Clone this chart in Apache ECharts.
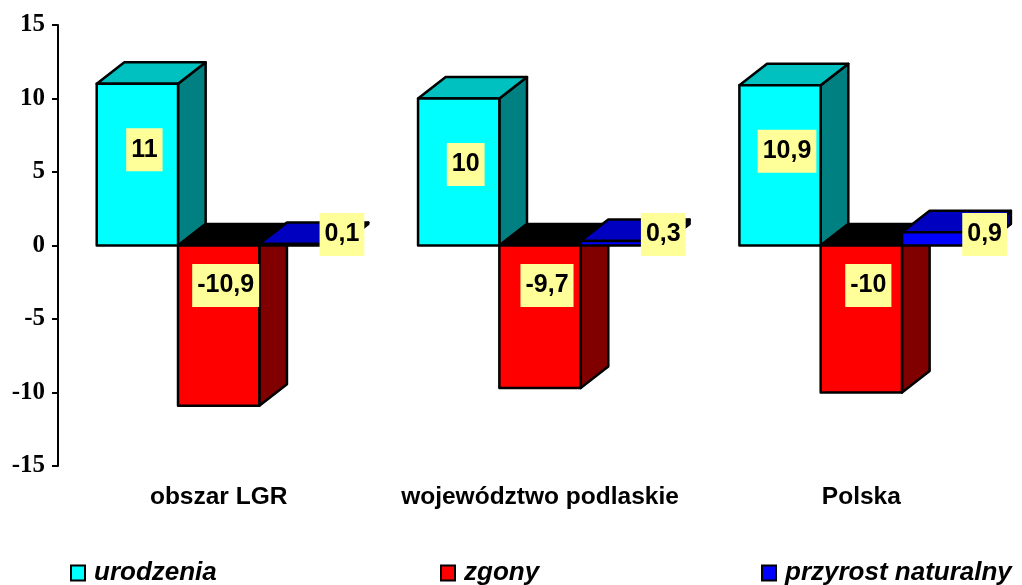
<!DOCTYPE html>
<html>
<head>
<meta charset="utf-8">
<script src="https://cdn.jsdelivr.net/npm/echarts@6/dist/echarts.min.js"></script>
<style>
  html, body { margin: 0; padding: 0; background: #fff; }
  #chart { width: 1022px; height: 585px; }
</style>
</head>
<body>
<div id="chart"></div>
<script>
var categories = ['obszar LGR', 'województwo podlaskie', 'Polska']
var seriesNames = ['urodzenia', 'zgony', 'przyrost naturalny']
var urodzenia = [11, 10, 10.9]
var zgony = [-10.9, -9.7, -10]
var przyrost = [0.1, 0.3, 0.9]
var yTicks = { min: -15, max: 15, interval: 5 }

// front / top / side shades of each 3D column
var faceColors = [
  { front: '#00FFFF', top: '#00C0C0', side: '#008080' },
  { front: '#FF0000', top: '#000000', side: '#800000' },
  { front: '#0000FF', top: '#0000C0', side: '#000080' }
]
// where the value boxes sit, relative to each column
var labelShift = [
  { x: 7, fromTop: 66 },
  { x: 7, fromZero: 40 },
  { x: 42, fromZero: -11 }
]

var chart = echarts.init(document.getElementById('chart'))

function fmt(v) {
  return String(v).replace('.', ',')
}

function renderBar(params, api) {
  var s = params.seriesIndex
  var cat = api.value(0)
  var val = api.value(1)
  var band = api.size([1, 0])[0]
  var bw = band * 0.253
  var c = api.coord([cat, 0])
  var y0 = c[1]
  var yv = api.coord([cat, val])[1]
  var x0 = c[0] + (s - 1.5) * bw
  var x1 = x0 + bw
  var dx = bw * 0.34
  var dy = -bw * 0.265
  var top = Math.min(y0, yv)
  var bot = Math.max(y0, yv)
  var col = faceColors[s]
  var line = { stroke: '#000', lineWidth: 2.5, lineJoin: 'round' }

  var front = {
    type: 'rect',
    shape: { x: x0, y: top, width: bw, height: bot - top },
    style: Object.assign({ fill: col.front }, line)
  }
  var topFace = {
    type: 'polygon',
    shape: { points: [[x0, top], [x1, top], [x1 + dx, top + dy], [x0 + dx, top + dy]] },
    style: Object.assign({ fill: col.top }, line)
  }
  var side = {
    type: 'polygon',
    shape: { points: [[x1, top], [x1 + dx, top + dy], [x1 + dx, bot + dy], [x1, bot]] },
    style: Object.assign({ fill: col.side }, line)
  }

  var ls = labelShift[s]
  var ly = ls.fromTop !== undefined ? yv + ls.fromTop : y0 + ls.fromZero
  var label = {
    type: 'text',
    z2: 100,
    style: {
      text: fmt(val),
      x: (x0 + x1) / 2 + ls.x,
      y: ly,
      align: 'center',
      verticalAlign: 'middle',
      fill: '#000',
      font: 'bold 25px "Liberation Sans", Arial, sans-serif',
      backgroundColor: '#FFFF99',
      padding: [10, 5, 8, 5]
    }
  }

  return { type: 'group', children: [side, topFace, front, label] }
}

function makeSeries(name, values, i) {
  return {
    name: name,
    type: 'custom',
    renderItem: renderBar,
    itemStyle: { color: faceColors[i].front },
    encode: { x: 0, y: 1 },
    data: values.map(function (v, k) { return [k, v] })
  }
}

var legendLeft = [70, 440, 761]
var legends = seriesNames.map(function (n, i) {
  return {
    data: [n],
    left: legendLeft[i],
    top: 560,
    padding: 0,
    icon: 'rect',
    itemWidth: 14,
    itemHeight: 15,
    itemStyle: { borderColor: '#000', borderWidth: 2 },
    textStyle: {
      color: '#000',
      fontFamily: '"Liberation Sans", Arial, sans-serif',
      fontSize: 26,
      fontWeight: 'bold',
      fontStyle: 'italic',
      padding: [0, 0, 0, 4]
    }
  }
})

var option = {
  backgroundColor: '#fff',
  animation: false,
  grid: { left: 58, top: 25, width: 981, height: 441 },
  legend: legends,
  xAxis: {
    type: 'category',
    data: categories,
    axisLine: { show: false, onZero: false },
    axisTick: { show: false },
    splitLine: { show: false },
    axisLabel: {
      interval: 0,
      hideOverlap: false,
      color: '#000',
      fontFamily: '"Liberation Sans", Arial, sans-serif',
      fontSize: 24.5,
      fontWeight: 'bold',
      margin: 19
    }
  },
  yAxis: {
    type: 'value',
    min: yTicks.min,
    max: yTicks.max,
    interval: yTicks.interval,
    axisLine: { show: true, lineStyle: { color: '#000', width: 2 } },
    axisTick: { show: true, length: 6, lineStyle: { color: '#000', width: 2 } },
    splitLine: { show: false },
    axisLabel: {
      color: '#000',
      fontFamily: '"Liberation Serif", "Times New Roman", serif',
      fontSize: 25,
      fontWeight: 'bold',
      margin: 13
    }
  },
  series: [
    makeSeries(seriesNames[0], urodzenia, 0),
    makeSeries(seriesNames[1], zgony, 1),
    makeSeries(seriesNames[2], przyrost, 2)
  ]
}

chart.setOption(option)
</script>
</body>
</html>
